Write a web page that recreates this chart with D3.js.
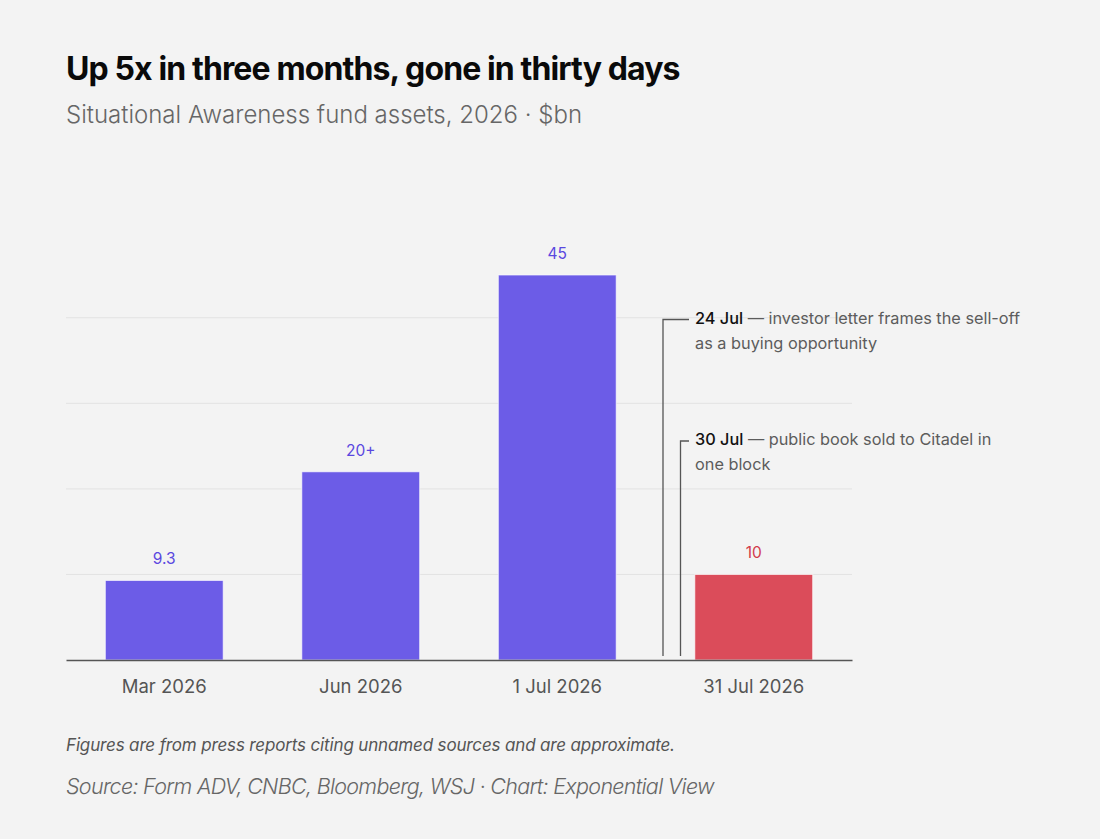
<!DOCTYPE html>
<html><head><meta charset="utf-8">
<script src="https://cdn.jsdelivr.net/npm/d3@7"></script>
<style>
html,body{margin:0;padding:0;background:#f3f3f3;}
svg{display:block;font-family:Inter,"Noto Sans",sans-serif;}
</style></head>
<body>
<svg id="c" width="1100" height="839"></svg>
<script>
const categories = ["Mar 2026", "Jun 2026", "1 Jul 2026", "31 Jul 2026"];
const values = [9.3, 22, 45, 10];
const valueLabels = ["9.3", "20+", "45", "10"];
const highlight = [false, false, false, true];
const gridTicks = [10, 20, 30, 40];
const notes = [
  {date: "24 Jul", lines: [" — investor letter frames the sell-off", "as a buying opportunity"]},
  {date: "30 Jul", lines: [" — public book sold to Citadel in", "one block"]}
];

const svg = d3.select("#c");
svg.append("rect").attr("width",1100).attr("height",839).attr("fill","#f3f3f3");

const L = 66, R = 852, B = 660;
const x = d3.scaleBand().domain(categories).range([L, R]).paddingInner(0.4).paddingOuter(0.2);
const y = d3.scaleLinear().domain([0, 50]).range([B, B - 427.8]);

// title
svg.append("text").attr("x",66).attr("y",80).attr("font-size",32).attr("font-weight",700)
  .attr("fill","#0a0a0a").attr("letter-spacing","-0.88").text("Up 5x in three months, gone in thirty days");
svg.append("text").attr("x",66).attr("y",123).attr("font-size",24).attr("font-weight",300)
  .attr("fill","#666").text("Situational Awareness fund assets, 2026 · $bn");

// grid
svg.append("g").selectAll("line").data(gridTicks).join("line")
  .attr("x1",L).attr("x2",R).attr("y1",d=>y(d)).attr("y2",d=>y(d))
  .attr("stroke","#e2e2e2").attr("stroke-width",1);

// bars
svg.append("g").selectAll("rect").data(values).join("rect")
  .attr("x",(d,i)=>x(categories[i])).attr("width",x.bandwidth())
  .attr("y",d=>y(d)).attr("height",d=>B-y(d))
  .attr("fill",(d,i)=>highlight[i]?"#db4c5a":"#6c5ce7")
  .attr("stroke","#ffffff").attr("stroke-opacity",0.7).attr("stroke-width",1);

// value labels
svg.append("g").selectAll("text").data(values).join("text")
  .attr("x",(d,i)=>x(categories[i])+x.bandwidth()/2).attr("y",d=>y(d)-16)
  .attr("text-anchor","middle").attr("font-size",15.5)
  .attr("fill",(d,i)=>highlight[i]?"#d23a4a":"#5a47e0")
  .text((d,i)=>valueLabels[i]);

// x axis
const xAxis = d3.axisBottom(x).tickSize(0).tickPadding(20);
const gx = svg.append("g").attr("transform",`translate(0,${B})`).call(xAxis);
gx.select(".domain").attr("stroke","#555").attr("stroke-width",1.5);
gx.selectAll("text").attr("font-size",18.5).attr("fill","#555").attr("font-family","Inter,sans-serif");

// annotations
const annX = [663, 680.5];
const annY = [319.5, 441];
const textX = 695;
notes.forEach((n,i)=>{
  svg.append("path")
    .attr("d",`M${annX[i]},${B-4}V${annY[i]}H${689}`)
    .attr("fill","none").attr("stroke","#555").attr("stroke-width",1.3);
  const t = svg.append("text").attr("x",textX).attr("y",annY[i]+4).attr("font-size",16.3).attr("fill","#5c5c5c");
  t.append("tspan").attr("font-weight",500).attr("fill","#111").text(n.date);
  t.append("tspan").text(n.lines[0]);
  svg.append("text").attr("x",textX).attr("y",annY[i]+29).attr("font-size",16.3).attr("fill","#5c5c5c").text(n.lines[1]);
});

// footer
svg.append("text").attr("x",66).attr("y",751).attr("font-size",17).attr("font-style","italic")
  .attr("letter-spacing","-0.15").attr("fill","#555").text("Figures are from press reports citing unnamed sources and are approximate.");
svg.append("text").attr("x",66).attr("y",794).attr("font-size",21.5).attr("font-style","italic").attr("font-weight",300)
  .attr("letter-spacing","-0.7").attr("fill","#666").text("Source: Form ADV, CNBC, Bloomberg, WSJ · Chart: Exponential View");
</script>
</body></html>
